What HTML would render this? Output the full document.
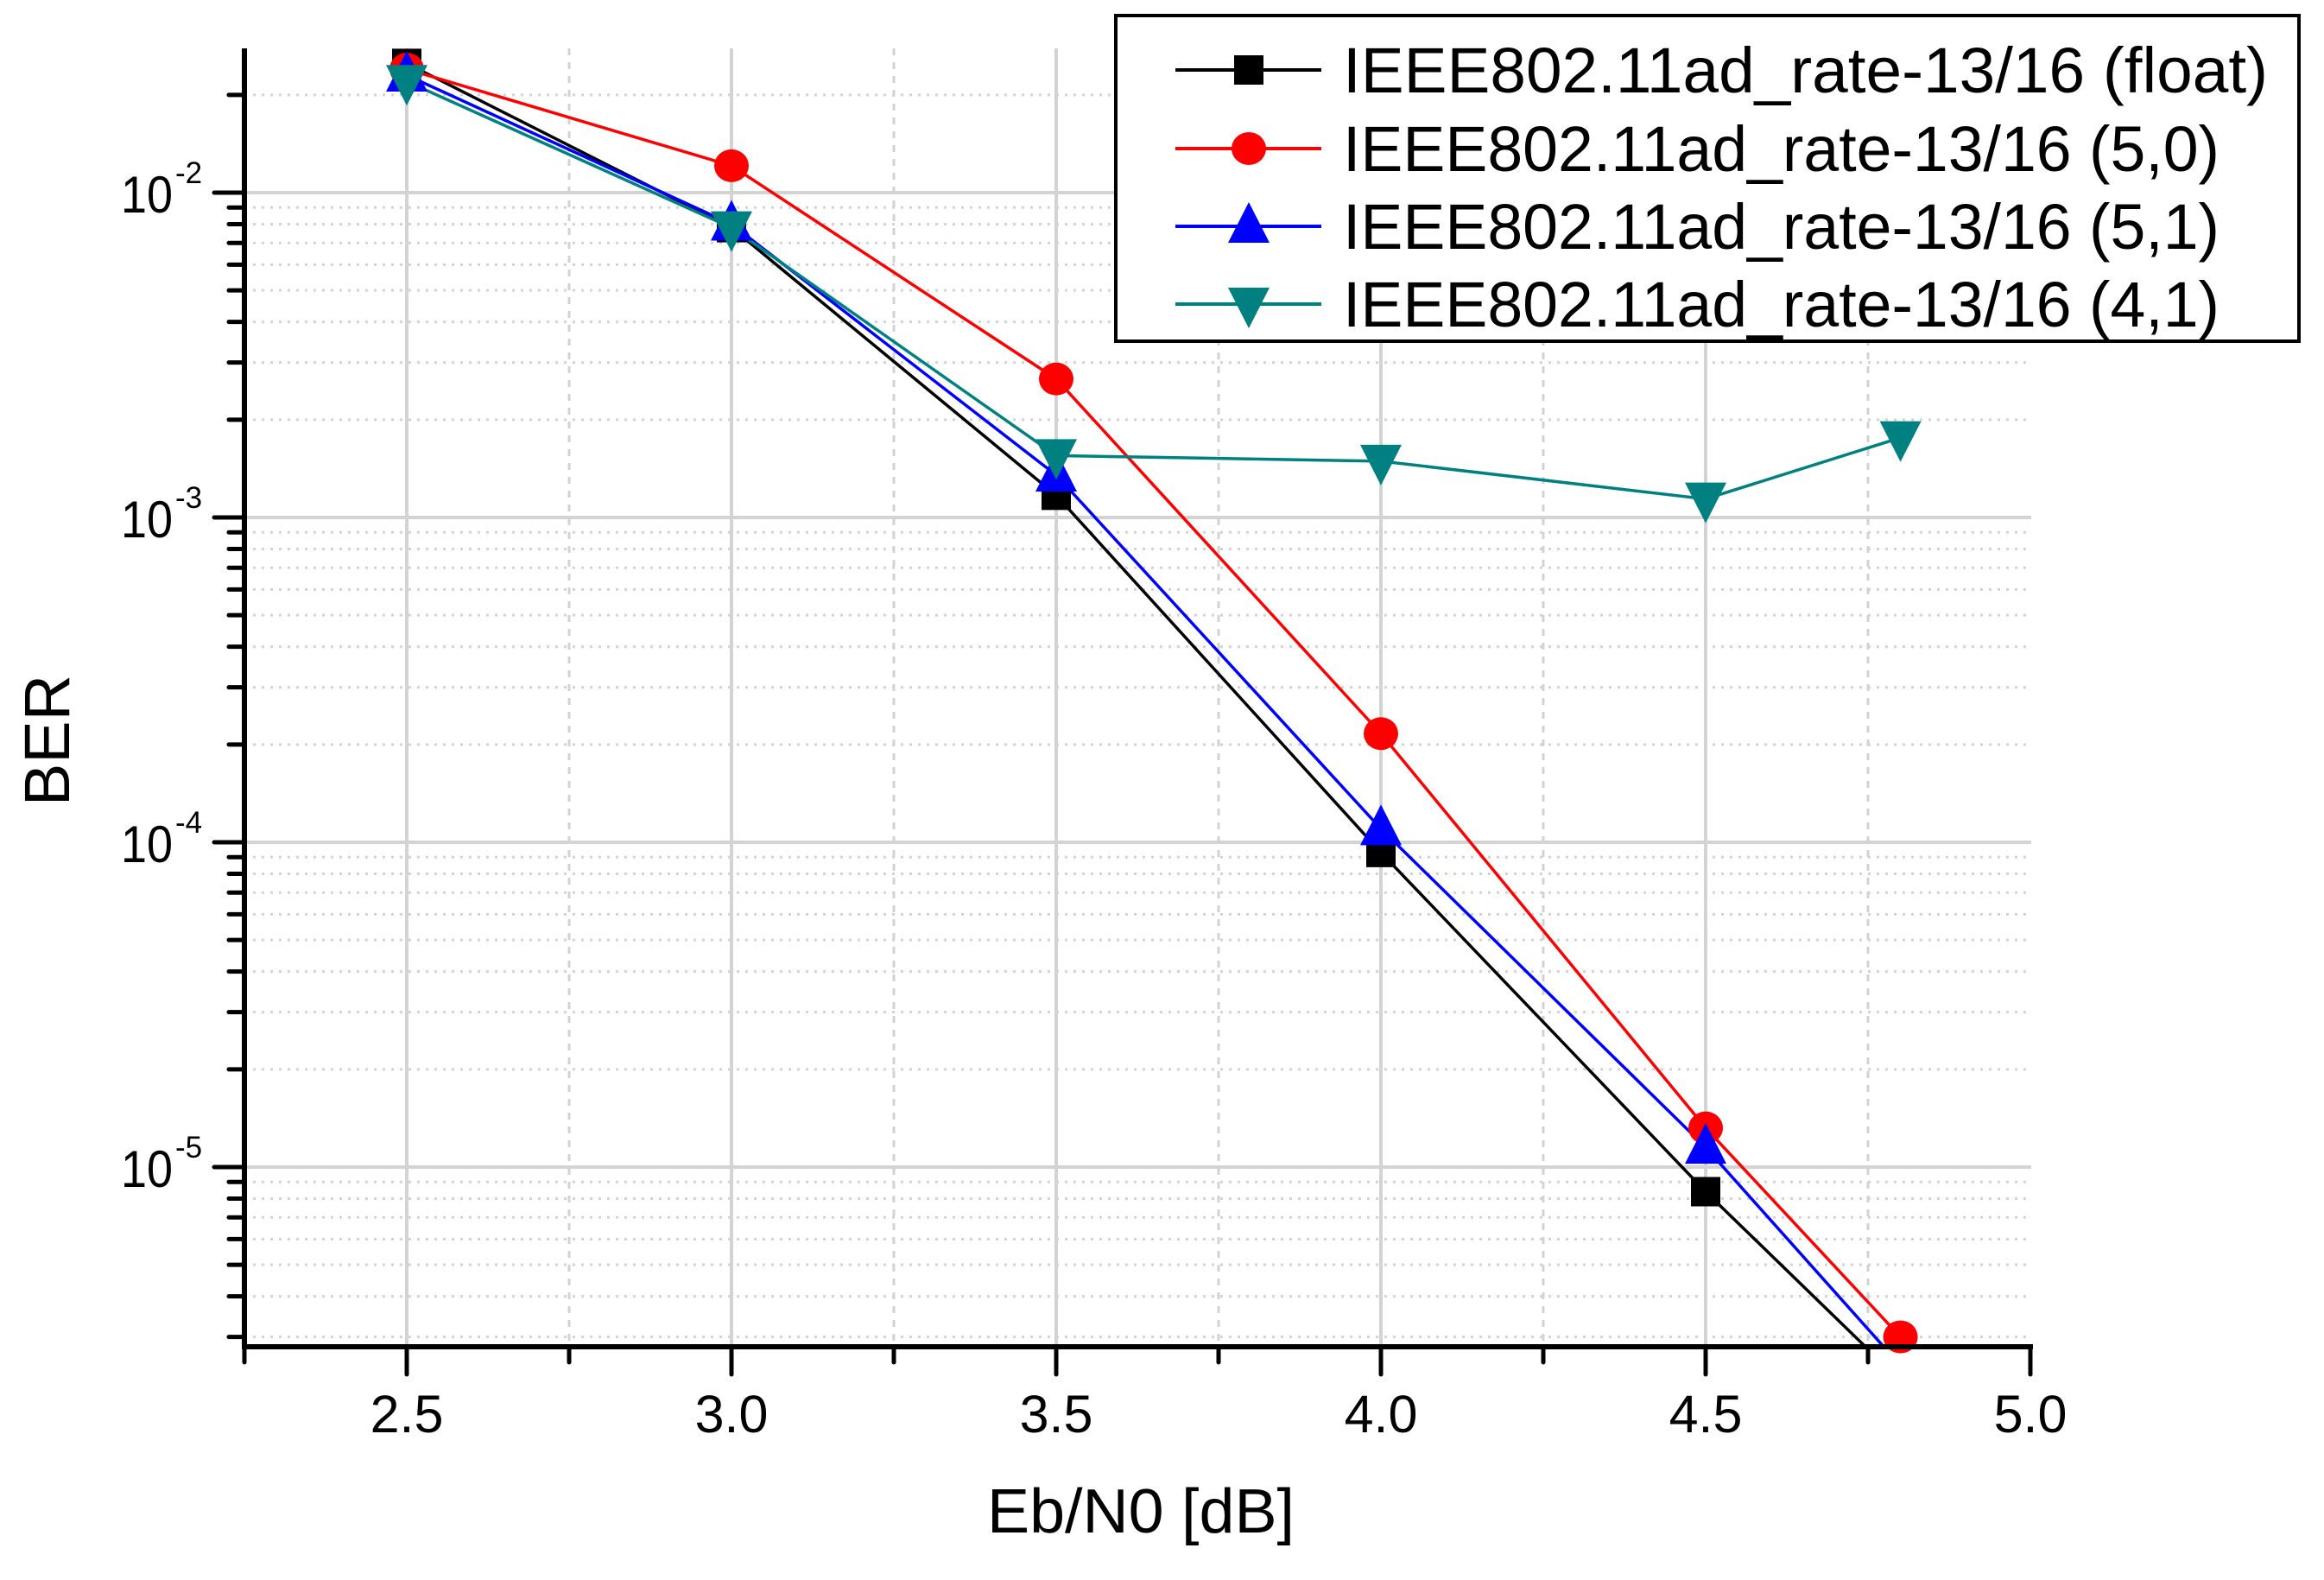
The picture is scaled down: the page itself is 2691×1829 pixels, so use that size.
<!DOCTYPE html>
<html><head><meta charset="utf-8"><style>
html,body{margin:0;padding:0;background:#fff;}
svg{display:block;font-family:"Liberation Sans",Arial,sans-serif;}
</style></head><body>
<svg id="chart" width="2691" height="1829" viewBox="0 0 2691 1829" xmlns="http://www.w3.org/2000/svg">
<defs><clipPath id="plotclip"><rect x="283" y="56" width="2070" height="1503"/></clipPath></defs>
<g id="grid"></g>
<g id="series" clip-path="url(#plotclip)"></g>
<g id="markers"></g>
<g id="axes"></g>
<text x="0" y="0" font-size="74" transform="translate(80,857) rotate(-90)" text-anchor="middle">BER</text>
<text x="1143" y="1774" font-size="72" textLength="356" lengthAdjust="spacingAndGlyphs">Eb/N0 [dB]</text>
<g id="legend"></g>
</svg>
<script>
const xTicks = [2.5, 3.0, 3.5, 4.0, 4.5, 5.0];
const xTickLabels = ["2.5", "3.0", "3.5", "4.0", "4.5", "5.0"];
const xMinorTicks = [2.25, 2.75, 3.25, 3.75, 4.25, 4.75];
const yDecades = [-2, -3, -4, -5];
const yDecadeLabels = ["-2", "-3", "-4", "-5"];
const xFloat = [2.5, 3.0, 3.5, 4.0, 4.5, 4.8];
const berFloat = [0.025, 0.0078, 0.00117, 9.3e-5, 8.4e-6, 2.2e-6];
const x50 = [2.5, 3.0, 3.5, 4.0, 4.5, 4.8];
const ber50 = [0.024, 0.0121, 0.00267, 2.16e-4, 1.32e-5, 3.0e-6];
const x51 = [2.5, 3.0, 3.5, 4.0, 4.5, 4.8];
const ber51 = [0.023, 0.008, 0.00135, 1.1e-4, 1.15e-5, 2.45e-6];
const x41 = [2.5, 3.0, 3.5, 4.0, 4.5, 4.8];
const ber41 = [0.022, 0.0078, 0.00155, 0.00149, 0.00114, 0.00176];
const seriesNames = ["IEEE802.11ad_rate-13/16 (float)", "IEEE802.11ad_rate-13/16 (5,0)", "IEEE802.11ad_rate-13/16 (5,1)", "IEEE802.11ad_rate-13/16 (4,1)"];

const NS = "http://www.w3.org/2000/svg";
const L = 283, R = 2352, T = 56, B = 1559;
const X0 = 2.25, XPX = 752;
const Y2 = 223, DEC = 376;
function xs(v){ return L + (v - X0) * XPX; }
function ys(v){ return Y2 + (-2 - Math.log10(v)) * DEC; }
function mk(tag, attrs, parent){ const e = document.createElementNS(NS, tag); for (const k in attrs) e.setAttribute(k, attrs[k]); parent.appendChild(e); return e; }
const grid = document.getElementById('grid'), axes = document.getElementById('axes');
const series = document.getElementById('series'), markers = document.getElementById('markers'), legend = document.getElementById('legend');

const lo = -2 - (B - Y2) / DEC, hi = -2 + (Y2 - T) / DEC;
for (let d = Math.floor(lo); d <= Math.ceil(hi); d++) {
  for (let m = 1; m <= 9; m++) {
    const v = m * Math.pow(10, d), y = ys(v);
    if (y < T || y > B) continue;
    const g = mk('line', {x1: L, x2: R, y1: y, y2: y, stroke: '#d3d3d3', 'stroke-width': m === 1 ? 4 : 3, 'stroke-dasharray': m === 1 ? '' : '3,7'}, grid);
    
    
    const t = mk('line', {x1: m === 1 ? 248 : 265, x2: L, y1: y, y2: y, stroke: '#000', 'stroke-width': 5, 'stroke-linecap': 'round'}, axes);
    
    
  }
}
yDecades.forEach((d, i) => {
  const y = ys(Math.pow(10, d));
  const t = mk('text', {x: 140, y: y + 23, 'font-size': 60, textLength: 60, lengthAdjust: 'spacingAndGlyphs'}, axes);
  
  
  t.textContent = '10';
  const s = mk('text', {x: 203, y: y - 11, 'font-size': 35}, axes);
  
  
  s.textContent = yDecadeLabels[i];
});
xTicks.forEach((v, i) => {
  const x = xs(v);
  if (x < R - 2) {
    const g = mk('line', {x1: x, x2: x, y1: T, y2: B, stroke: '#d3d3d3', 'stroke-width': 4}, grid);
    
    
  }
  const t = mk('line', {x1: x, x2: x, y1: B, y2: 1591, stroke: '#000', 'stroke-width': 5, 'stroke-linecap': 'round'}, axes);
  
  
  const lb = mk('text', {x: x, y: 1658, 'font-size': 61, 'text-anchor': 'middle'}, axes);
  
  
  lb.textContent = xTickLabels[i];
});
xMinorTicks.forEach(v => {
  const x = xs(v);
  if (v > X0) {
    const g = mk('line', {x1: x, x2: x, y1: T, y2: B, stroke: '#d3d3d3', 'stroke-width': 3, 'stroke-dasharray': '8,8'}, grid);
    
    
  }
  const t = mk('line', {x1: x, x2: x, y1: B, y2: 1577, stroke: '#000', 'stroke-width': 5, 'stroke-linecap': 'round'}, axes);
  
  
});
const ya = mk('line', {x1: L, x2: L, y1: T, y2: B + 2, stroke: '#000', 'stroke-width': 6}, axes);


const xa = mk('line', {x1: L - 3, x2: R + 2, y1: B, y2: B, stroke: '#000', 'stroke-width': 6}, axes);



function marker(kind, cx, cy, color, parent){
  let e;
  if (kind === 'square') e = mk('rect', {x: cx - 17, y: cy - 17, width: 34, height: 34, fill: color}, parent);
  else if (kind === 'circle') e = mk('ellipse', {cx: cx, cy: cy, rx: 20, ry: 19, fill: color}, parent);
  else if (kind === 'up') e = mk('polygon', {points: `${cx},${cy-28} ${cx-24},${cy+19} ${cx+24},${cy+19}`, fill: color}, parent);
  else e = mk('polygon', {points: `${cx},${cy+28} ${cx-24},${cy-19} ${cx+24},${cy-19}`, fill: color}, parent);
  return e;
}
const defs = [
  {xv: xFloat, yv: berFloat, color: '#000000', kind: 'square', name: 'float'},
  {xv: x50, yv: ber50, color: '#ff0000', kind: 'circle', name: '5-0'},
  {xv: x51, yv: ber51, color: '#0000ff', kind: 'up', name: '5-1'},
  {xv: x41, yv: ber41, color: '#008080', kind: 'down', name: '4-1'}
];
defs.forEach(s => {
  const pts = s.xv.map((v, i) => xs(v) + ',' + ys(s.yv[i])).join(' ');
  const pl = mk('polyline', {points: pts, fill: 'none', stroke: s.color, 'stroke-width': 3.5}, series);
  
  
});
defs.forEach(s => {
  s.xv.forEach((v, i) => {
    const y = ys(s.yv[i]);
    if (y > B + 5) return;
    const m = marker(s.kind, xs(v), y, s.color, markers);
    
    
  });
});
const box = mk('rect', {x: 1292, y: 18, width: 1370, height: 377, fill: '#fff', stroke: '#000', 'stroke-width': 4}, legend);


const rowsY = [81, 172, 262, 352];
defs.forEach((s, i) => {
  const y = rowsY[i];
  const g = mk('g', {}, legend);
  
  
  mk('line', {x1: 1361, x2: 1530, y1: y, y2: y, stroke: s.color, 'stroke-width': 4}, g);
  marker(s.kind, 1446, y, s.color, g);
  const t = mk('text', {x: 1555, y: y + 26, 'font-size': 74, textLength: i === 0 ? 1071 : 1015, lengthAdjust: 'spacingAndGlyphs'}, g);
  t.textContent = seriesNames[i];
});
</script>
</body></html>
